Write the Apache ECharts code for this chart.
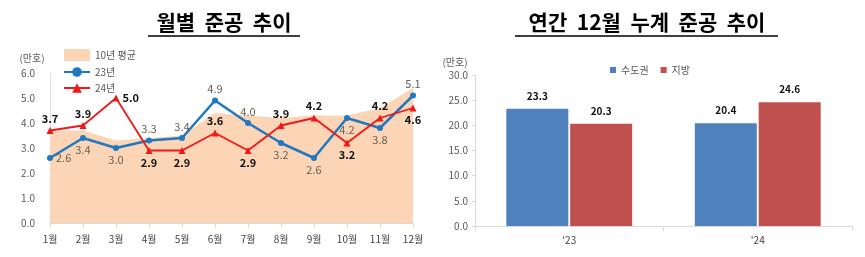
<!DOCTYPE html>
<html><head><meta charset="utf-8">
<script src="https://cdn.jsdelivr.net/npm/echarts@6/dist/echarts.min.js"></script>
<style>html,body{margin:0;padding:0;background:#fff}#c{width:865px;height:257px}</style>
</head><body><div id="c"></div>
<script>
const months = ['1월','2월','3월','4월','5월','6월','7월','8월','9월','10월','11월','12월'];
const avg10 = [3.7,3.7,3.3,3.4,3.5,4.4,4.3,4.2,4.3,4.3,4.6,5.4];
const y23 = [2.6,3.4,3.0,3.3,3.4,4.9,4.0,3.2,2.6,4.2,3.8,5.1];
const y24 = [3.7,3.9,5.0,2.9,2.9,3.6,2.9,3.9,4.2,3.2,4.2,4.6];
const years = ["'23","'24"];
const capital = [23.3,20.4];
const regional = [20.3,24.6];

// label placements (style only)
const pos23 = ['right','bottom','bottom','top','top','top','top','bottom','bottom','bottom','bottom','top'];
const pos24 = ['top','top','right','bottom','bottom','top','bottom','top','top','bottom','top','bottom'];

const font = '"Noto Sans CJK KR", "Noto Sans", sans-serif';
const chart = echarts.init(document.getElementById('c'));
chart.setOption({
  animation:false,
  textStyle:{fontFamily:font},
  graphic:[
    {type:'text',x:224,y:22,style:{text:'월별  준공  추이',font:'bold 21px '+font,fill:'#000',align:'center',verticalAlign:'middle'}},
    {type:'line',shape:{x1:148,y1:36,x2:300,y2:36},style:{stroke:'#000',lineWidth:1.5}},
    {type:'text',x:647,y:22,style:{text:'연간  12월  누계  준공  추이',font:'bold 21px '+font,fill:'#000',align:'center',verticalAlign:'middle'}},
    {type:'line',shape:{x1:515,y1:36,x2:778,y2:36},style:{stroke:'#000',lineWidth:1.5}},
    {type:'text',x:32,y:58,style:{text:'(만호)',font:'10px '+font,fill:'#595959',align:'center',verticalAlign:'middle'}},
    {type:'text',x:455,y:62,style:{text:'(만호)',font:'10px '+font,fill:'#595959',align:'center',verticalAlign:'middle'}}
  ],
  legend:[
    {orient:'vertical',left:58,top:44,itemGap:6,itemWidth:26,itemHeight:12,
     textStyle:{fontSize:10,color:'#595959',fontFamily:font},
     data:[{name:'10년 평균',icon:'rect',itemStyle:{color:'#fbd5b5'}},{name:'23년'},{name:'24년'}]},
    {left:605,top:60,itemGap:12,itemWidth:6,itemHeight:6,icon:'rect',
     textStyle:{fontSize:10,color:'#595959',fontFamily:font},
     data:['수도권','지방']}
  ],
  grid:[
    {left:50,right:452,top:73,bottom:34},
    {left:475,right:13,top:75,bottom:31}
  ],
  xAxis:[
    {type:'category',gridIndex:0,data:months,boundaryGap:false,
     axisLine:{lineStyle:{color:'#d9d9d9'}},axisTick:{show:true,lineStyle:{color:'#d9d9d9'}},
     axisLabel:{color:'#404040',fontSize:10,margin:11}},
    {type:'category',gridIndex:1,data:years,
     axisLine:{lineStyle:{color:'#d9d9d9'}},axisTick:{show:true,lineStyle:{color:'#d9d9d9'}},
     axisLabel:{color:'#404040',fontSize:10,margin:9}}
  ],
  yAxis:[
    {type:'value',gridIndex:0,min:0,max:6,interval:1,
     axisLine:{show:true,lineStyle:{color:'#e0e0e0'}},axisTick:{show:false},splitLine:{show:false},
     axisLabel:{color:'#595959',fontSize:10,margin:15,formatter:v=>v.toFixed(1)}},
    {type:'value',gridIndex:1,min:0,max:30,interval:5,
     axisLine:{show:true,lineStyle:{color:'#d9d9d9'}},axisTick:{show:true,length:3,lineStyle:{color:'#d9d9d9'}},splitLine:{show:false},
     axisLabel:{color:'#595959',fontSize:10,margin:7,formatter:v=>v.toFixed(1)}}
  ],
  series:[
    {name:'10년 평균',type:'line',xAxisIndex:0,yAxisIndex:0,data:avg10,symbol:'none',
     lineStyle:{width:0,color:'#fbd5b5'},itemStyle:{color:'#fbd5b5'},areaStyle:{color:'#fbd5b5',opacity:1},z:1},
    {name:'23년',type:'line',xAxisIndex:0,yAxisIndex:0,symbol:'circle',symbolSize:6,
     data:y23.map((v,i)=>({value:v,label:{position:pos23[i]}})),
     lineStyle:{width:2.5,color:'#1f78c1'},itemStyle:{color:'#1f78c1'},
     label:{show:true,color:'#6b5d4f',fontSize:11,distance:3,formatter:p=>p.value.toFixed(1)},z:3},
    {name:'24년',type:'line',xAxisIndex:0,yAxisIndex:0,symbol:'triangle',symbolSize:7,
     data:y24.map((v,i)=>({value:v,label:{position:pos24[i]}})),
     lineStyle:{width:1.8,color:'#f01818'},itemStyle:{color:'#f01818'},
     label:{show:true,color:'#111',fontWeight:'bold',fontSize:11,distance:3,formatter:p=>p.value.toFixed(1)},z:4},
    {name:'수도권',type:'bar',xAxisIndex:1,yAxisIndex:1,data:capital,barWidth:62,barGap:'3%',
     itemStyle:{color:'#4f81bd'},
     label:{show:true,position:'top',distance:8,color:'#111',fontWeight:'bold',fontSize:10,formatter:p=>p.value.toFixed(1)}},
    {name:'지방',type:'bar',xAxisIndex:1,yAxisIndex:1,data:regional,barWidth:62,
     itemStyle:{color:'#c0504d'},
     label:{show:true,position:'top',distance:8,color:'#111',fontWeight:'bold',fontSize:10,formatter:p=>p.value.toFixed(1)}}
  ]
});
</script></body></html>
